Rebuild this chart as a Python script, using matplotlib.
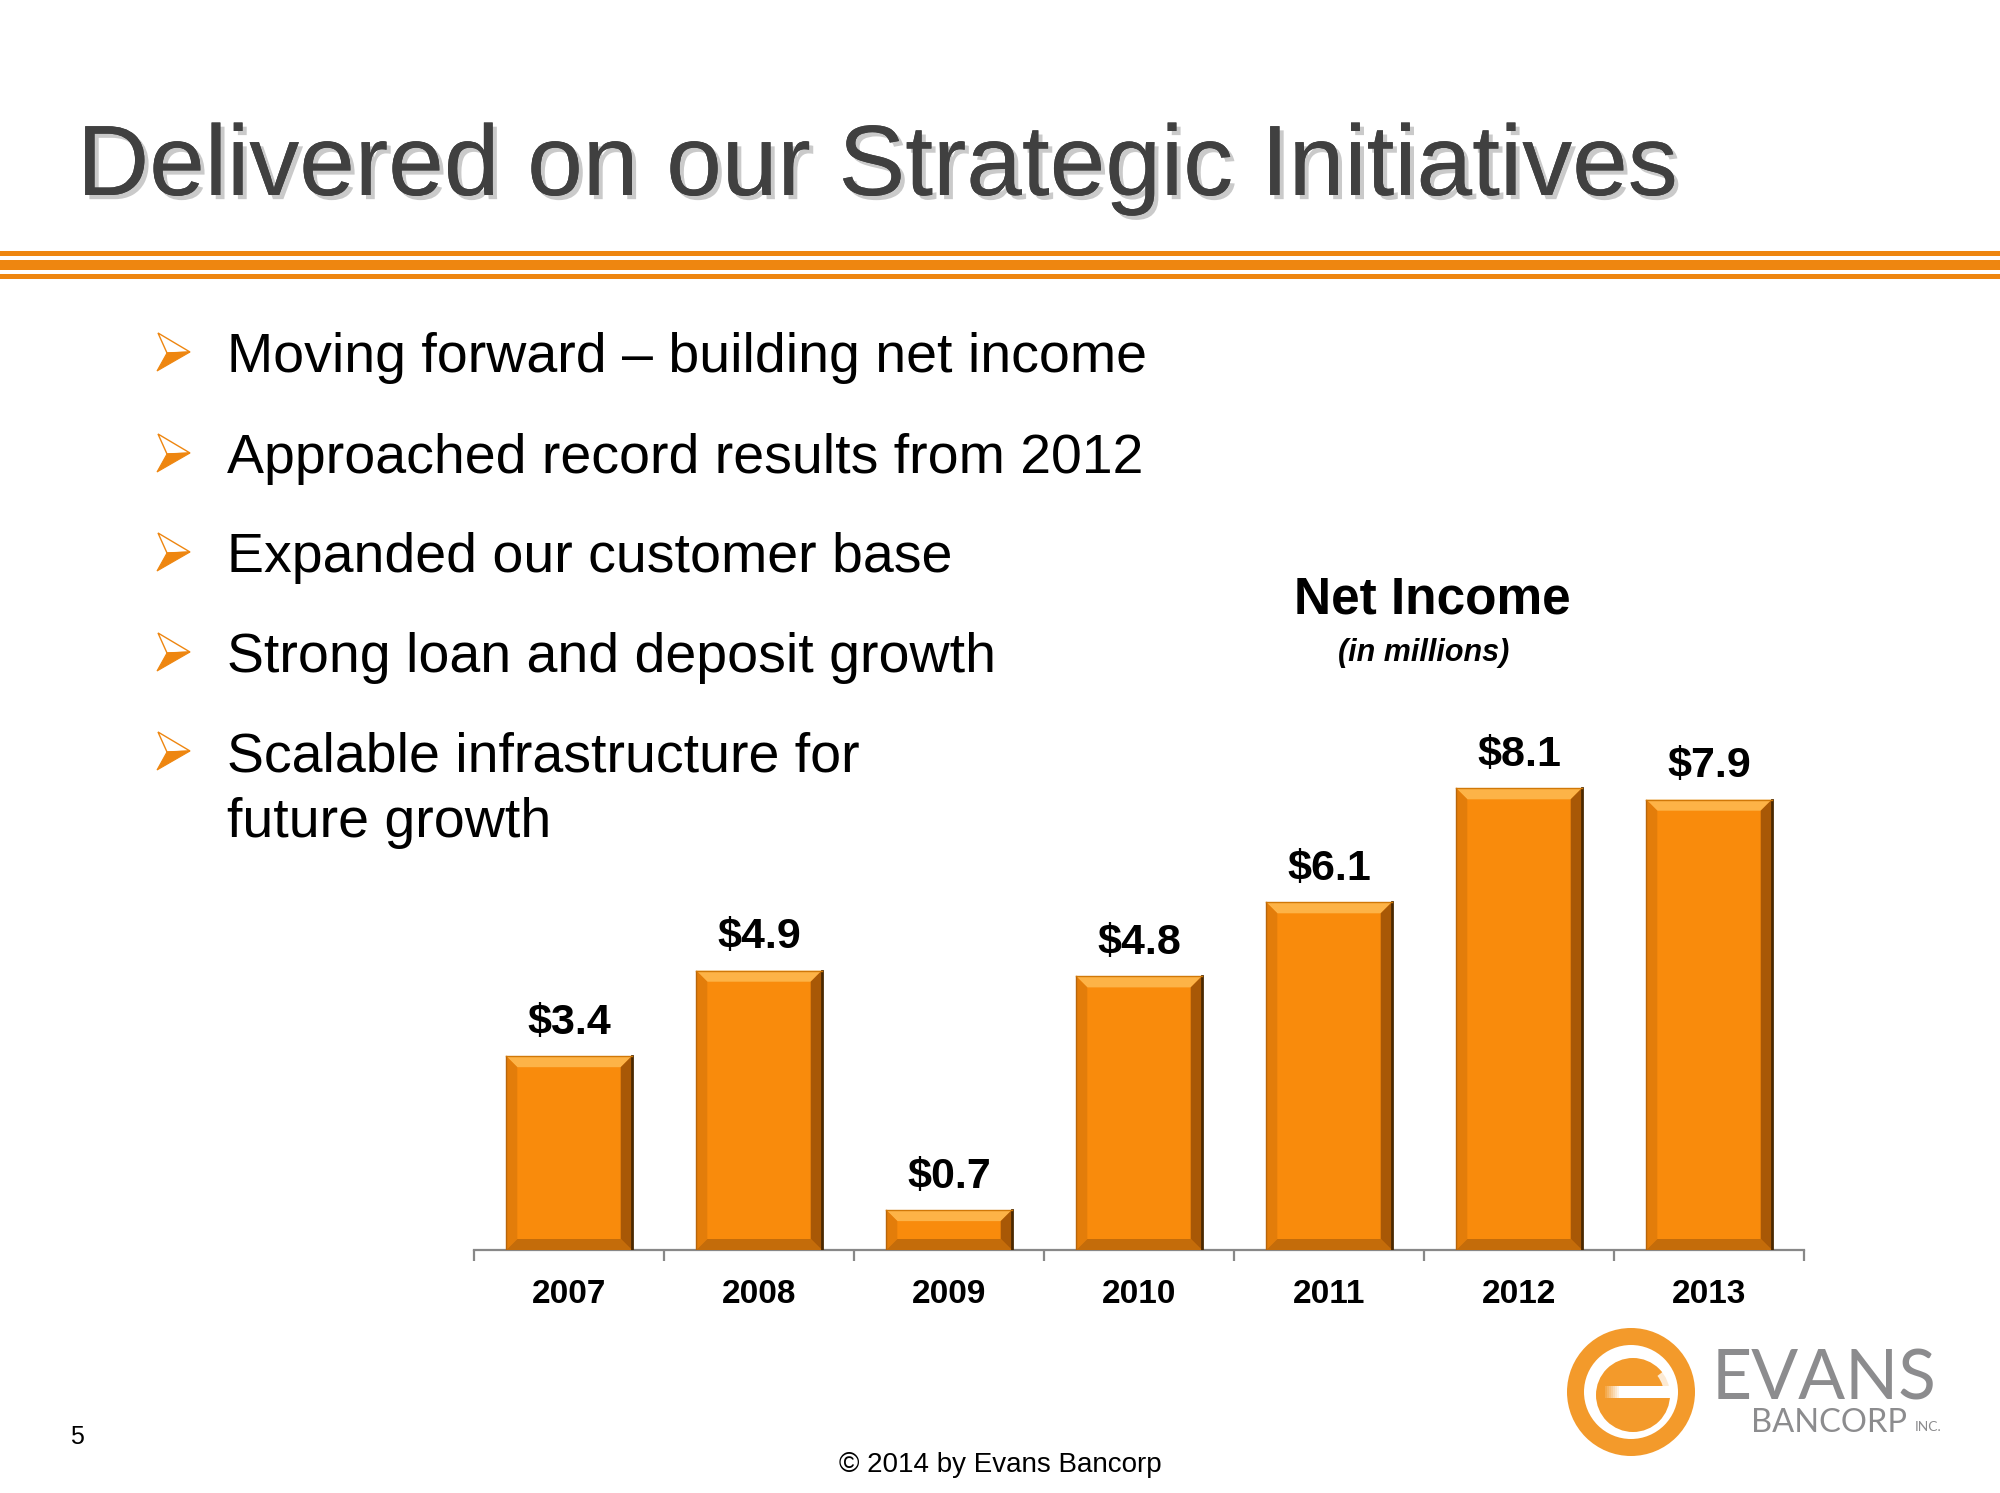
"""
Slide: Delivered on our Strategic Initiatives - Net Income bar chart.
"""

import numpy as np
import matplotlib.pyplot as plt
import matplotlib.patheffects as pe
from matplotlib.patches import Polygon, Circle, Rectangle, Wedge

plt.rcParams['font.family'] = ['Liberation Sans', 'DejaVu Sans']

# data
years = ['2007', '2008', '2009', '2010', '2011', '2012', '2013']
net_income = [3.4, 4.9, 0.7, 4.8, 6.1, 8.1, 7.9]
value_labels = ['$3.4', '$4.9', '$0.7', '$4.8', '$6.1', '$8.1', '$7.9']

title = 'Delivered on our Strategic Initiatives'
bullets = [
    'Moving forward \u2013 building net income',
    'Approached record results from 2012',
    'Expanded our customer base',
    'Strong loan and deposit growth',
    'Scalable infrastructure for',
]
bullet_cont = 'future growth'

ORANGE = '#EE8610'
BAR_FACE = '#F98B0C'
W, H = 2000, 1493

fig = plt.figure(figsize=(20, 14.93), dpi=100)
fig.patch.set_facecolor('white')

# overlay axes in pixel coordinates for slide decoration
deco = fig.add_axes([0, 0, 1, 1])
deco.set_xlim(0, W)
deco.set_ylim(H, 0)
deco.axis('off')

# title with soft shadow
deco.text(77, 195, title, fontsize=72, color='#404040', ha='left', va='baseline',
          path_effects=[pe.withSimplePatchShadow(offset=(3, -3), shadow_rgbFace='#8a8a8a',
                                                 alpha=0.45), pe.Normal()])

# orange rule lines
for y0, y1 in [(251, 256), (260, 270), (274, 279)]:
    deco.add_patch(Rectangle((0, y0), W, y1 - y0, color=ORANGE, lw=0))

# bullets
bullet_y = [352, 453, 552, 652, 751]
for text, yc in zip(bullets, bullet_y):
    bx = 172
    tip = (bx + 18, yc)
    notch = (bx - 5, yc + 1)
    top = (bx - 14, yc - 19)
    bot = (bx - 15, yc + 19)
    deco.add_patch(Polygon([top, tip, notch], closed=True, facecolor='white',
                           edgecolor=ORANGE, lw=1.0))
    deco.add_patch(Polygon([notch, tip, bot], closed=True, facecolor=ORANGE,
                           edgecolor=ORANGE, lw=0.8))
    deco.text(227, yc + 20, text, fontsize=40, color='black', ha='left', va='baseline')
deco.text(227, 837, bullet_cont, fontsize=40, color='black', ha='left', va='baseline')

# chart title
deco.text(1432, 613, 'Net Income', fontsize=37, fontweight='bold', color='black',
          ha='center', va='baseline')
deco.text(1424, 661, '(in millions)', fontsize=22, fontweight='bold', style='italic',
          color='black', ha='center', va='baseline')

# footer
deco.text(70, 1444, '5', fontsize=18, color='black', ha='left', va='baseline')
deco.text(1000, 1472, '\u00a9 2014 by Evans Bancorp', fontsize=20, color='black',
          ha='center', va='baseline')

# logo
LOGO_OR = '#F39A2B'
cx, cy = 1631, 1392
deco.add_patch(Circle((cx, cy), 64, color=LOGO_OR, lw=0))
deco.add_patch(Circle((cx, cy), 47, color='white', lw=0))
deco.add_patch(Circle((cx + 2, cy + 3), 37, color=LOGO_OR, lw=0))
for i, a in enumerate(np.linspace(0.15, 1.0, 8)):
    deco.add_patch(Rectangle((1605 + i * 2, 1386), 2.2, 12, color='white', alpha=a, lw=0))
deco.add_patch(Rectangle((1621, 1386), 52, 12, color='white', lw=0))
deco.add_patch(Wedge((cx + 2, cy + 3), 40, -38, 2, width=9, color='white', alpha=0.8, lw=0))
deco.text(1712, 1400, 'EVANS', fontsize=50, color='#8C8C8E', family='Lato',
          ha='left', va='baseline')
deco.text(1751, 1432, 'BANCORP', fontsize=23.5, color='#8C8C8E', family='Lato',
          ha='left', va='baseline')
deco.text(1915, 1431, 'INC.', fontsize=10, color='#8C8C8E', family='Lato',
          ha='left', va='baseline')

# bar chart
ax = fig.add_axes([474 / W, 1 - 1250 / H, 1330 / W, 570 / H])
ax.patch.set_alpha(0)
x = np.arange(len(years))
bar_w = 0.66
ax.set_xlim(-0.5, len(years) - 0.5)
ax.set_ylim(0, 10)
bars = ax.bar(x, net_income, width=bar_w, color=BAR_FACE, zorder=2)

# bevel facets, sized in pixels
pos = ax.get_position()
sx = pos.width * W / (len(years))
sy = pos.height * H / 10
dx, dy = 11 / sx, 11 / sy
for b in bars:
    x0, x1, h = b.get_x(), b.get_x() + b.get_width(), b.get_height()
    facets = [
        ([(x0, h), (x1, h), (x1 - dx, h - dy), (x0 + dx, h - dy)], '#FDB347'),
        ([(x0, 0), (x0, h), (x0 + dx, h - dy), (x0 + dx, dy)], '#E37D0A'),
        ([(x1, h), (x1, 0), (x1 - dx, dy), (x1 - dx, h - dy)], '#A85806'),
        ([(x0, 0), (x1, 0), (x1 - dx, dy), (x0 + dx, dy)], '#C46C0A'),
    ]
    for pts, c in facets:
        ax.add_patch(Polygon(pts, closed=True, facecolor=c, edgecolor='none', zorder=3))
    ax.plot([x1, x1], [0, h], color='#4A2800', lw=2, zorder=4)
    ax.plot([x0, x0], [0, h], color='#B8650A', lw=1, zorder=4)
    ax.plot([x0, x1], [h, h], color='#D07808', lw=1, zorder=4)

for xi, v, lab in zip(x, net_income, value_labels):
    ax.annotate(lab, (xi, v), xytext=(0, 16), textcoords='offset points',
                ha='center', va='baseline', fontsize=31, fontweight='bold', color='black')

for s in ['top', 'right', 'left']:
    ax.spines[s].set_visible(False)
ax.spines['bottom'].set_color('#888888')
ax.spines['bottom'].set_linewidth(1.6)
ax.set_yticks([])
ax.set_xticks(x)
ax.set_xticklabels(years, fontsize=24, fontweight='bold')
ax.tick_params(axis='x', which='major', length=0, pad=21)
ax.set_xticks(np.arange(-0.5, len(years), 1), minor=True)
ax.tick_params(axis='x', which='minor', length=8, width=1.6, color='#888888')

fig.savefig('out.png', dpi=100)
